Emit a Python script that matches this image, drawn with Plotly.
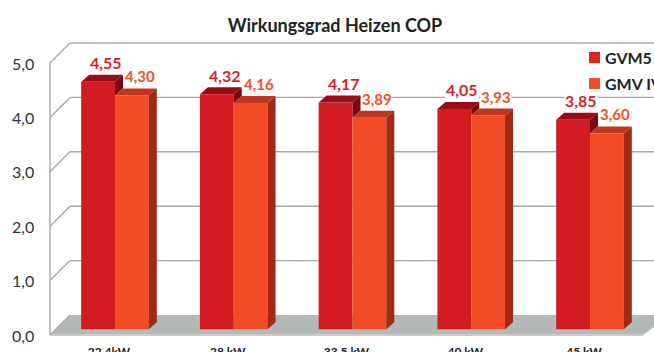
import plotly.graph_objects as go

categories = ["22.4kW", "28 kW", "33.5 kW", "40 kW", "45 kW"]
gvm5 = [4.55, 4.32, 4.17, 4.05, 3.85]
gmv_iv = [4.30, 4.16, 3.89, 3.93, 3.60]
axis_values = [0, 1, 2, 3, 4, 5]
axis_labels = ["0,0", "1,0", "2,0", "3,0", "4,0", "5,0"]
series_names = ["GVM5", "GMV IV"]

W, H = 654, 352
PLOT_B = 340
X0, XS = 115.0, 118.75   # pixel of first category, pixels per category
Y0, YS = 329.3, 54.4     # pixel of value 0 for bar fronts, pixels per unit


def px(p):
    return (p - X0) / XS


def py(p):
    return (Y0 - p) / YS


DX, DY = 8 / XS, 7 / YS
HALF = 33.8 / XS
FRONT_OFF = (Y0 - 335) / YS
BACK_OFF = (Y0 - 315) / YS
LABEL_OFF = (Y0 - 336) / YS

RED, RED_TOP, RED_SIDE = "#d31b22", "#9a0c15", "#7e0510"
ORG, ORG_TOP, ORG_SIDE = "#f24c27", "#c0351d", "#a02a14"
WALL = "#a9a9a9"
xs = list(range(len(categories)))
fig = go.Figure()


def poly(xv, yv, color, yaxis):
    fig.add_trace(go.Scatter(x=xv, y=yv, fill="toself", fillcolor=color, mode="lines",
                             line=dict(width=0, color=color), showlegend=False,
                             hoverinfo="skip", yaxis=yaxis))


def line(xv, yv, color=WALL, width=1.4):
    fig.add_trace(go.Scatter(x=xv, y=yv, mode="lines", line=dict(color=color, width=width),
                             showlegend=False, hoverinfo="skip", yaxis="y"))


# floor and walls (main subplot, behind the bars)
poly([px(50), px(70), px(670), px(643)],
     [FRONT_OFF, BACK_OFF, BACK_OFF, FRONT_OFF], "#b4b8b8", "y")
line([px(50), px(643)], [FRONT_OFF, FRONT_OFF], "#c9cccc", 2)
line([px(50), px(50)], [FRONT_OFF, 5 + FRONT_OFF])
for v in axis_values:
    line([px(50), px(70)], [v + FRONT_OFF, v + BACK_OFF])
    if v > 0:
        line([px(70), px(670)], [v + BACK_OFF, v + BACK_OFF])

# bar fronts
fig.add_trace(go.Bar(x=xs, y=gvm5, name=series_names[0], marker=dict(color=RED, line_width=0),
                     yaxis="y2", hoverinfo="skip", showlegend=False))
fig.add_trace(go.Bar(x=xs, y=gmv_iv, name=series_names[1], marker=dict(color=ORG, line_width=0),
                     yaxis="y2", hoverinfo="skip", showlegend=False))

# 3-D faces derived from the values
for i, (a, b) in enumerate(zip(gvm5, gmv_iv)):
    l, m, r = i - HALF, float(i), i + HALF
    poly([l, l + DX, m + DX, m], [a, a + DY, a + DY, a], RED_TOP, "y2")
    poly([m, m + DX, m + DX, m], [a, a + DY, b + DY, b], RED_SIDE, "y2")
    poly([m, m + DX, r + DX, r], [b, b + DY, b + DY, b], ORG_TOP, "y2")
    poly([r, r + DX, r + DX, r], [b, b + DY, DY, 0], ORG_SIDE, "y2")

annotations = []
for series, color, size in ((gvm5, "#d81f2a", 16), (gmv_iv, "#f4502a", 15)):
    off = -HALF / 2 if series is gvm5 else HALF / 2
    for i, v in enumerate(series):
        annotations.append(dict(
            x=i + off, y=v, xref="x", yref="y2", text=f"{v:.2f}".replace(".", ","),
            showarrow=False, xshift=8, yshift=19, yanchor="middle",
            bgcolor="white", borderpad=0,
            font=dict(family="Lato", size=size, color=color, weight="bold")))

# legend keys placed by hand so the clipped second entry matches the reference
shapes = []
for name, color, top, bottom in ((series_names[0], "#df251f", 52, 63), (series_names[1], "#f04e23", 78, 89)):
    shapes.append(dict(type="rect", xref="paper", yref="paper", x0=589 / W, x1=600 / W,
                       y0=1 - bottom / PLOT_B, y1=1 - top / PLOT_B,
                       fillcolor=color, line_width=0))
    annotations.append(dict(x=603 / W, y=1 - (top + bottom) / 2 / PLOT_B, xref="paper", yref="paper",
                            text=name, showarrow=False, xanchor="left", yanchor="middle",
                            font=dict(family="Lato", size=16, color="#222222", weight="bold")))

yr = [py(PLOT_B), py(0)]
fig.update_layout(
    width=W, height=H, barmode="group", bargap=0.43, bargroupgap=0,
    margin=dict(l=0, r=0, t=0, b=H - PLOT_B, autoexpand=False),
    paper_bgcolor="white", plot_bgcolor="white",
    title=dict(text="Wirkungsgrad Heizen COP", x=335 / W, y=1 - 26 / H, xanchor="center", yanchor="middle",
               font=dict(family="Lato", size=18, color="#222222", weight="bold")),
    xaxis=dict(range=[px(0), px(W)], tickvals=[x - 6 / XS for x in xs], ticktext=categories,
               showgrid=False, zeroline=False, showline=False, ticks="", ticklabelstandoff=3,
               tickfont=dict(family="Lato", size=12, color="#222222", weight="bold")),
    yaxis=dict(range=yr, tickvals=[v + LABEL_OFF for v in axis_values], ticktext=axis_labels,
               showgrid=False, zeroline=False, showline=False, ticks="",
               ticklabelposition="inside", ticklabeloverflow="allow", ticklabelstandoff=9,
               tickfont=dict(family="Lato", size=16, color="#333333")),
    yaxis2=dict(range=yr, overlaying="y", visible=False),
    annotations=annotations,
    shapes=shapes,
    showlegend=False,
)
fig.write_html("out.html", config=dict(displayModeBar=False),
               post_script="document.body.style.margin='0';document.body.style.overflow='hidden';")
